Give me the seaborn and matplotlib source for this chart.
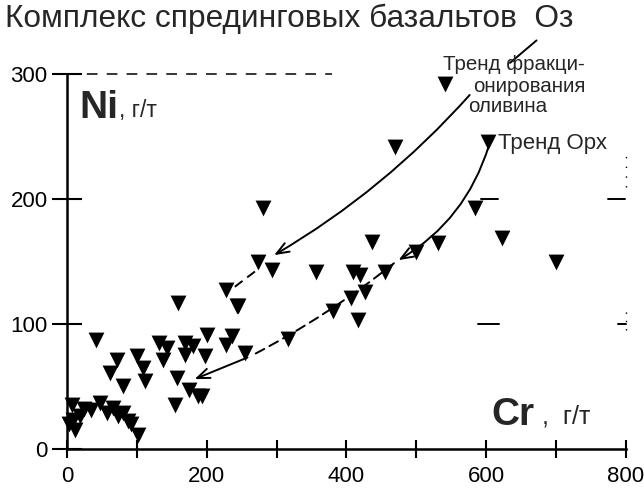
import numpy as np
import pandas as pd
import matplotlib
matplotlib.use('Agg')
import matplotlib.pyplot as plt
import seaborn as sns

# Cr, Ni (g/t)
cr = [3, 7, 9, 11, 19, 25, 35, 47, 57, 66, 73, 80, 87, 92, 101,
      42, 61, 71, 80, 100, 109, 112, 131, 138, 143, 157, 155, 169, 169, 174,
      180, 188, 193, 197, 200, 228, 236, 255, 159, 228, 245, 243,
      274, 293, 281, 317, 357, 381, 407, 416, 409, 419, 426, 436, 455,
      469, 500, 531, 541, 602, 584, 622, 700]
ni = [20, 35, 23, 15, 26, 32, 31, 37, 29, 33, 26, 29, 22, 20, 11,
      87, 61, 71, 50, 74, 65, 54, 85, 71, 81, 57, 35, 85, 75, 47,
      82, 42, 42, 74, 91, 83, 90, 77, 117, 127, 114, 114,
      150, 143, 193, 88, 142, 110, 121, 103, 142, 139, 126, 166, 142,
      242, 158, 165, 292, 246, 193, 169, 150]

x_ticks = [0, 200, 400, 600, 800]
y_ticks = [0, 100, 200, 300]

title = 'Комплекс спрединговых базальтов  Оз'
olivine_lines = ['Тренд фракци-', 'онирования', 'оливина']
opx_label = 'Тренд Орх'

df = pd.DataFrame({'Cr': cr, 'Ni': ni})

sns.set_style('ticks')
plt.rcParams['font.family'] = ['Liberation Sans', 'DejaVu Sans']

fig = plt.figure(figsize=(6.44, 5.01), dpi=100)
ax = fig.add_axes([0.104, 0.104, 0.868, 0.748])

sns.scatterplot(data=df, x='Cr', y='Ni', marker='v', s=130, color='black',
                edgecolor='black', linewidth=0, ax=ax, clip_on=False, zorder=3)

ax.set_xlim(0, 800)
ax.set_ylim(0, 300)
ax.set_xticks(x_ticks)
ax.set_xticks(range(100, 800, 200), minor=True)
ax.set_yticks(y_ticks)
ax.set_xlabel('')
ax.set_ylabel('')
sns.despine(ax=ax)
for s in ['left', 'bottom']:
    ax.spines[s].set_linewidth(1.8)
    ax.spines[s].set_color('black')
ax.tick_params(axis='x', which='both', direction='inout', length=13, width=1.5,
               labelsize=16, pad=6, colors='black')
ax.tick_params(axis='y', direction='inout', length=22, width=1.5,
               labelsize=16, pad=3, colors='black')

# scanned frame remnants
ax.plot([0, 380], [300, 300], color='black', lw=1.1, ls=(0, (7, 6)), clip_on=False)
ax.plot([593, 617], [200, 200], color='black', lw=1.4)
ax.plot([774, 798], [200, 200], color='black', lw=1.4)
ax.plot([588, 618], [100, 100], color='black', lw=1.4)
ax.plot([788, 800], [100, 100], color='black', lw=1.4, clip_on=False)
ax.plot([800, 800], [210, 240], color='black', lw=1, ls=(0, (1, 6)), clip_on=False)
ax.plot([800, 800], [95, 115], color='black', lw=1, ls=(0, (1, 5)), clip_on=False)

# trend arrows
arr = dict(arrowstyle='->,head_length=0.9,head_width=0.35', color='black', lw=1.4)
ax.annotate('', xy=(293, 154), xytext=(579, 285),
            arrowprops=dict(arr, connectionstyle='arc3,rad=-0.08'), annotation_clip=False)
ax.plot([269, 236], [142, 128], color='black', lw=1.4, ls=(0, (5, 3)))
ax.plot([672, 634], [327, 309], color='black', lw=1.4, clip_on=False)

ax.annotate('', xy=(471, 150), xytext=(605, 245),
            arrowprops=dict(arr, connectionstyle='arc3,rad=-0.2'))
ax.annotate('', xy=(262, 74), xytext=(471, 150),
            arrowprops=dict(arrowstyle='-', color='black', lw=1.4, ls=(0, (5, 3)),
                            connectionstyle='arc3,rad=-0.05'))
ax.annotate('', xy=(179, 55), xytext=(262, 74), arrowprops=arr)

# labels
fig.text(5 / 644, 1 - 19 / 501, title, fontsize=22.8, va='center', ha='left')

t = ax.text(0.023, 0.909, 'Ni', transform=ax.transAxes, fontsize=28,
            fontweight='bold', va='center', ha='left')
ax.annotate(', г/т', xy=(1, 0.12), xycoords=t, fontsize=16.5, va='bottom', ha='left')
t = ax.text(0.76, 0.09, 'Cr', transform=ax.transAxes, fontsize=28,
            fontweight='bold', va='center', ha='left')
ax.annotate(' ,  г/т', xy=(1, 0.12), xycoords=t, fontsize=18, va='bottom', ha='left')

for lab, xp, yp in zip(olivine_lines, [443, 473, 468], [64, 86, 107]):
    fig.text(xp / 644, 1 - yp / 501, lab, fontsize=14.8, va='center', ha='left')
fig.text(498 / 644, 1 - 143 / 501, opx_label, fontsize=16, va='center', ha='left')

fig.savefig('out.png', dpi=100)
